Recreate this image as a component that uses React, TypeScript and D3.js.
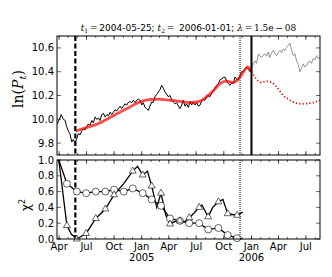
import * as d3 from 'd3'

const width = 332
const height = 277

const left = 57
const right = 320
const topA = { top: 36, bottom: 155 }
const botA = { top: 160, bottom: 239 }

const parse = d3.timeParse('%Y-%m-%d')

const t1 = '2004-05-25'
const t2 = '2006-01-01'
const tDot = '2005-11-24'

// log price, in-sample part (black)
const priceIn: [string, number][] = [
  ['2004-03-25', 9.96], ['2004-04-02', 10.0], ['2004-04-08', 10.04], ['2004-04-15', 10.0],
  ['2004-04-21', 9.99], ['2004-04-26', 9.94], ['2004-05-02', 9.9], ['2004-05-07', 9.88],
  ['2004-05-13', 9.81], ['2004-05-18', 9.83], ['2004-05-24', 9.8], ['2004-05-30', 9.84],
  ['2004-06-04', 9.88], ['2004-06-10', 9.87], ['2004-06-15', 9.9], ['2004-06-21', 9.92],
  ['2004-06-26', 9.91], ['2004-07-02', 9.94], ['2004-07-07', 9.96], ['2004-07-13', 9.95],
  ['2004-07-19', 9.99], ['2004-07-24', 9.97], ['2004-07-30', 10.02], ['2004-08-04', 10.0],
  ['2004-08-10', 10.01], ['2004-08-15', 9.99], ['2004-08-21', 10.04], ['2004-08-26', 10.05],
  ['2004-09-01', 10.02], ['2004-09-07', 10.04], ['2004-09-12', 10.03], ['2004-09-18', 10.06],
  ['2004-09-23', 10.04], ['2004-09-29', 10.06], ['2004-10-04', 10.08], ['2004-10-10', 10.07],
  ['2004-10-15', 10.09], ['2004-10-21', 10.11], ['2004-10-26', 10.09], ['2004-11-01', 10.11],
  ['2004-11-06', 10.13], ['2004-11-12', 10.12], ['2004-11-17', 10.14], ['2004-11-23', 10.15],
  ['2004-11-29', 10.14], ['2004-12-04', 10.16], ['2004-12-10', 10.14], ['2004-12-15', 10.16],
  ['2004-12-21', 10.17], ['2004-12-26', 10.16], ['2005-01-01', 10.12], ['2005-01-06', 10.14],
  ['2005-01-12', 10.1], ['2005-01-17', 10.09], ['2005-01-23', 10.075], ['2005-01-28', 10.11],
  ['2005-02-03', 10.145], ['2005-02-08', 10.14], ['2005-02-14', 10.19], ['2005-02-20', 10.21],
  ['2005-02-25', 10.23], ['2005-03-03', 10.25], ['2005-03-08', 10.285], ['2005-03-14', 10.26],
  ['2005-03-19', 10.23], ['2005-03-25', 10.21], ['2005-03-30', 10.19], ['2005-04-05', 10.2],
  ['2005-04-11', 10.16], ['2005-04-16', 10.145], ['2005-04-22', 10.13], ['2005-04-27', 10.14],
  ['2005-05-03', 10.11], ['2005-05-08', 10.09], ['2005-05-14', 10.12], ['2005-05-19', 10.16],
  ['2005-05-25', 10.11], ['2005-05-30', 10.13], ['2005-06-05', 10.1], ['2005-06-11', 10.15],
  ['2005-06-16', 10.12], ['2005-06-22', 10.145], ['2005-06-27', 10.12], ['2005-07-03', 10.14],
  ['2005-07-08', 10.11], ['2005-07-14', 10.12], ['2005-07-19', 10.15], ['2005-07-25', 10.17],
  ['2005-07-30', 10.16], ['2005-08-05', 10.19], ['2005-08-10', 10.2], ['2005-08-16', 10.19],
  ['2005-08-22', 10.22], ['2005-08-27', 10.24], ['2005-09-02', 10.26], ['2005-09-07', 10.285],
  ['2005-09-13', 10.3], ['2005-09-18', 10.33], ['2005-09-24', 10.34], ['2005-09-29', 10.35],
  ['2005-10-05', 10.355], ['2005-10-11', 10.32], ['2005-10-16', 10.3], ['2005-10-22', 10.285],
  ['2005-10-27', 10.31], ['2005-11-02', 10.3], ['2005-11-07', 10.355], ['2005-11-13', 10.34],
  ['2005-11-18', 10.33], ['2005-11-24', 10.37], ['2005-11-29', 10.4], ['2005-12-05', 10.4],
  ['2005-12-10', 10.42], ['2005-12-16', 10.44], ['2005-12-22', 10.42], ['2005-12-27', 10.4],
  ['2006-01-01', 10.42],
]

// log price after t2 (grey)
const priceOut: [string, number][] = [
  ['2006-01-01', 10.42], ['2006-01-07', 10.465], ['2006-01-13', 10.49], ['2006-01-18', 10.47],
  ['2006-01-24', 10.55], ['2006-01-29', 10.53], ['2006-02-04', 10.52], ['2006-02-09', 10.54],
  ['2006-02-15', 10.55], ['2006-02-20', 10.53], ['2006-02-26', 10.565], ['2006-03-03', 10.52],
  ['2006-03-09', 10.56], ['2006-03-15', 10.58], ['2006-03-20', 10.55], ['2006-03-26', 10.535],
  ['2006-03-31', 10.56], ['2006-04-06', 10.58], ['2006-04-11', 10.56], ['2006-04-17', 10.59],
  ['2006-04-22', 10.58], ['2006-04-28', 10.605], ['2006-05-03', 10.62], ['2006-05-09', 10.64],
  ['2006-05-15', 10.58], ['2006-05-20', 10.535], ['2006-05-26', 10.55], ['2006-05-31', 10.49],
  ['2006-06-06', 10.46], ['2006-06-11', 10.4], ['2006-06-17', 10.43], ['2006-06-22', 10.465],
  ['2006-06-28', 10.44], ['2006-07-03', 10.45], ['2006-07-09', 10.48], ['2006-07-14', 10.49],
  ['2006-07-20', 10.47], ['2006-07-25', 10.51], ['2006-07-31', 10.5], ['2006-08-06', 10.535],
  ['2006-08-11', 10.51], ['2006-08-17', 10.52],
]

// LPPL fit, t1..t2 (solid) and extrapolation (dotted)
const fitIn: [string, number][] = [
  ['2004-05-25', 9.9], ['2004-07-13', 9.94], ['2004-08-15', 9.97], ['2004-09-20', 10.02],
  ['2004-10-20', 10.06], ['2004-11-20', 10.1], ['2004-12-20', 10.14], ['2005-01-25', 10.165],
  ['2005-03-01', 10.17], ['2005-04-05', 10.16], ['2005-05-08', 10.15], ['2005-06-08', 10.14],
  ['2005-07-11', 10.15], ['2005-08-05', 10.19], ['2005-08-27', 10.24], ['2005-09-18', 10.3],
  ['2005-10-11', 10.32], ['2005-11-02', 10.31], ['2005-11-24', 10.355], ['2005-12-10', 10.415],
  ['2005-12-19', 10.44], ['2006-01-01', 10.4],
]
const fitOut: [string, number][] = [
  ['2006-01-01', 10.4], ['2006-01-17', 10.34], ['2006-02-03', 10.31], ['2006-02-20', 10.32],
  ['2006-03-09', 10.31], ['2006-03-26', 10.27], ['2006-04-17', 10.2], ['2006-05-09', 10.16],
  ['2006-05-31', 10.135], ['2006-06-22', 10.13], ['2006-07-14', 10.135], ['2006-08-17', 10.16],
]

// chi2 curves: [date, value, has marker]
const chiTri: [string, number, boolean][] = [
  ['2004-03-31', 1.0, false], ['2004-04-27', 0.17, true], ['2004-05-12', 0.06, false],
  ['2004-05-30', 0.0, true], ['2004-06-30', 0.07, true], ['2004-08-01', 0.26, true],
  ['2004-09-02', 0.38, true], ['2004-10-01', 0.56, true], ['2004-11-02', 0.7, false],
  ['2004-12-02', 0.86, true], ['2004-12-18', 0.92, false], ['2005-01-04', 0.81, true],
  ['2005-01-20', 0.86, false], ['2005-02-03', 0.67, true], ['2005-02-20', 0.4, false],
  ['2005-03-06', 0.58, true], ['2005-03-22', 0.3, false], ['2005-04-05', 0.19, true],
  ['2005-04-20', 0.22, false], ['2005-05-08', 0.23, true], ['2005-05-24', 0.22, false],
  ['2005-06-08', 0.27, true], ['2005-06-24', 0.33, false], ['2005-07-11', 0.4, true],
  ['2005-07-20', 0.43, false], ['2005-08-10', 0.28, true], ['2005-08-25', 0.4, false],
  ['2005-09-13', 0.47, true], ['2005-09-28', 0.5, false], ['2005-10-14', 0.32, true],
  ['2005-10-30', 0.31, false], ['2005-11-14', 0.3, true], ['2005-12-03', 0.34, false],
]
const chiCirc: [string, number, boolean][] = [
  ['2004-03-31', 1.0, false], ['2004-04-27', 0.7, true], ['2004-05-30', 0.6, true],
  ['2004-06-30', 0.58, true], ['2004-08-01', 0.6, true], ['2004-09-02', 0.6, true],
  ['2004-10-01', 0.625, true], ['2004-11-02', 0.6, true], ['2004-12-02', 0.64, true],
  ['2005-01-04', 0.58, true], ['2005-02-03', 0.5, true], ['2005-03-06', 0.42, true],
  ['2005-04-05', 0.26, true], ['2005-05-08', 0.23, true], ['2005-06-08', 0.2, true],
  ['2005-07-11', 0.2, true], ['2005-08-10', 0.12, true], ['2005-09-13', 0.14, true],
  ['2005-10-14', 0.05, true], ['2005-11-14', 0.01, true], ['2005-11-30', 0.0, false],
]

const priceTicks = [9.8, 10.0, 10.2, 10.4, 10.6]
const chiTicks = [0.0, 0.2, 0.4, 0.6, 0.8, 1.0]

const sans = 'DejaVu Sans, sans-serif'
const serif = 'DejaVu Serif, serif'

function App() {
  const x = d3.scaleTime()
    .domain([parse('2004-03-25')!, parse('2006-08-17')!])
    .range([left, right])
  const yP = d3.scaleLinear().domain([9.7, 10.7]).range([topA.bottom, topA.top])
  const yC = d3.scaleLinear().domain([0, 1]).range([botA.bottom, botA.top])

  const lineP = d3.line<[string, number]>()
    .x(d => x(parse(d[0])!))
    .y(d => yP(d[1]))
  const fitLine = d3.line<[string, number]>()
    .x(d => x(parse(d[0])!))
    .y(d => yP(d[1]))
    .curve(d3.curveMonotoneX)
  const lineC = d3.line<[string, number, boolean]>()
    .x(d => x(parse(d[0])!))
    .y(d => yC(d[1]))

  const majors = x.ticks(d3.timeMonth.every(3)!)
  const minors = x.ticks(d3.timeMonth.every(1)!)

  const frame = (a: { top: number; bottom: number }, yS: d3.ScaleLinear<number, number>, yt: number[]) => (
    <g>
      {minors.map((m, i) => (
        <g key={'mn' + i}>
          <line x1={x(m)} x2={x(m)} y1={a.bottom} y2={a.bottom - 2} stroke="black" strokeWidth={0.6} />
          <line x1={x(m)} x2={x(m)} y1={a.top} y2={a.top + 2} stroke="black" strokeWidth={0.6} />
        </g>
      ))}
      {majors.map((m, i) => (
        <g key={'mj' + i}>
          <line x1={x(m)} x2={x(m)} y1={a.bottom} y2={a.bottom - 4} stroke="black" strokeWidth={0.6} />
          <line x1={x(m)} x2={x(m)} y1={a.top} y2={a.top + 4} stroke="black" strokeWidth={0.6} />
        </g>
      ))}
      {yt.map((t, i) => (
        <g key={'yt' + i}>
          <line x1={left} x2={left + 4} y1={yS(t)} y2={yS(t)} stroke="black" strokeWidth={0.6} />
          <line x1={right} x2={right - 4} y1={yS(t)} y2={yS(t)} stroke="black" strokeWidth={0.6} />
          <text x={left - 3} y={yS(t)} dy="0.35em" textAnchor="end" fontSize={10} fontFamily={sans}>
            {t.toFixed(1)}
          </text>
        </g>
      ))}
      <rect x={left} y={a.top} width={right - left} height={a.bottom - a.top} fill="none" stroke="black" strokeWidth={1} />
    </g>
  )

  const tri = (cx: number, cy: number) => {
    const r = 4
    return `M${cx},${cy - r}L${cx + r * 0.87},${cy + r * 0.5}L${cx - r * 0.87},${cy + r * 0.5}Z`
  }

  return (
    <svg width={width} height={height} style={{ position: 'absolute', left: 0, top: 0, background: 'white' }}>
      <defs>
        <clipPath id="clipTop">
          <rect x={left} y={topA.top} width={right - left} height={topA.bottom - topA.top} />
        </clipPath>
      </defs>

      {/* top panel */}
      <g clipPath="url(#clipTop)">
        <path d={lineP(priceIn)!} fill="none" stroke="black" strokeWidth={1} />
        <path d={lineP(priceOut)!} fill="none" stroke="#777" strokeWidth={0.8} />
        <path d={fitLine(fitIn)!} fill="none" stroke="red" strokeOpacity={0.7} strokeWidth={2.8} />
        <path d={fitLine(fitOut)!} fill="none" stroke="red" strokeWidth={1.8} strokeDasharray="1.2,2.2" />
      </g>
      <line x1={x(parse(t1)!)} x2={x(parse(t1)!)} y1={topA.top} y2={topA.bottom} stroke="black" strokeWidth={2.2} strokeDasharray="5,2.5" />
      <line x1={x(parse(tDot)!)} x2={x(parse(tDot)!)} y1={topA.top} y2={topA.bottom} stroke="#333" strokeWidth={1.2} strokeDasharray="1,1" />
      <line x1={x(parse(t2)!)} x2={x(parse(t2)!)} y1={topA.top} y2={topA.bottom} stroke="black" strokeWidth={2} />
      {frame(topA, yP, priceTicks)}

      {/* bottom panel */}
      <line x1={x(parse(t1)!)} x2={x(parse(t1)!)} y1={botA.top} y2={botA.bottom} stroke="black" strokeWidth={2.2} strokeDasharray="5,2.5" />
      <line x1={x(parse(tDot)!)} x2={x(parse(tDot)!)} y1={botA.top} y2={botA.bottom} stroke="#333" strokeWidth={1.2} strokeDasharray="1,1" />
      <path d={lineC(chiCirc)!} fill="none" stroke="black" strokeWidth={1.3} />
      <path d={lineC(chiTri)!} fill="none" stroke="black" strokeWidth={1.3} />
      {chiCirc.filter(d => d[2]).map((d, i) => (
        <circle key={'c' + i} cx={x(parse(d[0])!)} cy={yC(d[1])} r={3.5} fill="white" stroke="black" strokeWidth={0.6} />
      ))}
      {chiTri.filter(d => d[2]).map((d, i) => (
        <path key={'t' + i} d={tri(x(parse(d[0])!), yC(d[1]))} fill="white" stroke="black" strokeWidth={0.6} />
      ))}
      {frame(botA, yC, chiTicks)}

      {/* x tick labels */}
      {majors.map((m, i) => (
        <g key={'xl' + i}>
          <text x={x(m)} y={botA.bottom + 11} textAnchor="middle" fontSize={10} fontFamily={sans}>
            {d3.timeFormat('%b')(m)}
          </text>
          {m.getMonth() === 0 && (
            <text x={x(m)} y={botA.bottom + 22} textAnchor="middle" fontSize={10} fontFamily={sans}>
              {d3.timeFormat('%Y')(m)}
            </text>
          )}
        </g>
      ))}

      {/* title */}
      <text x={(left + right) / 2} y={31} textAnchor="middle" fontSize={9}>
        <tspan fontFamily={serif} fontStyle="italic">t</tspan>
        <tspan fontFamily={serif} fontSize={6} dy={2}>1</tspan>
        <tspan fontFamily={serif} dy={-2}>{'\u2009=\u2009'}</tspan>
        <tspan fontFamily={sans}>2004-05-25; </tspan>
        <tspan fontFamily={serif} fontStyle="italic">t</tspan>
        <tspan fontFamily={serif} fontSize={6} dy={2}>2</tspan>
        <tspan fontFamily={serif} dy={-2}>{'\u2009=\u2009 '}</tspan>
        <tspan fontFamily={sans}>2006-01-01; </tspan>
        <tspan fontFamily={serif} fontStyle="italic">λ</tspan>
        <tspan fontFamily={serif}>{'\u2009=\u20091.5e\u2009\u2212\u200908'}</tspan>
      </text>

      {/* y labels */}
      <text transform="translate(23,89) rotate(-90)" textAnchor="middle" fontSize={14} fontFamily={serif}>
        <tspan>ln(</tspan>
        <tspan fontStyle="italic">P</tspan>
        <tspan fontStyle="italic" fontSize={10} dy={3}>t</tspan>
        <tspan dy={-3}>)</tspan>
      </text>
      <text transform="translate(30,205) rotate(-90)" textAnchor="middle" fontSize={12} fontFamily={sans}>
        <tspan>χ</tspan>
        <tspan fontSize={8} dy={-5}>2</tspan>
      </text>
    </svg>
  )
}

export default App
